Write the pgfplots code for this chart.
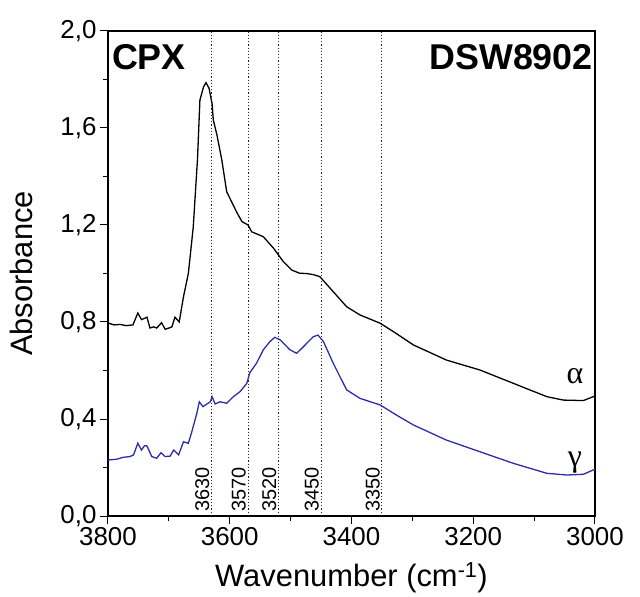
\documentclass[border=0pt]{standalone}
\usepackage{fontspec}
\setmainfont{Liberation Sans}
\newfontfamily\grk{Liberation Serif}
\usepackage{pgfplots}
\pgfplotsset{compat=1.18}
\usepackage{pgfplotstable}

\definecolor{gblue}{RGB}{45,45,170}

% alpha spectrum
\pgfplotstableread{
x y
3800 0.796
3790 0.788
3780 0.790
3770 0.785
3759 0.788
3751 0.837
3745 0.810
3740 0.815
3736 0.820
3731 0.775
3725 0.780
3720 0.775
3712 0.797
3706 0.770
3700 0.775
3695 0.780
3690 0.820
3683 0.800
3676 0.904
3668 1.000
3660 1.190
3653 1.470
3649 1.715
3643 1.770
3639 1.787
3634 1.764
3629 1.700
3627 1.633
3621 1.571
3613 1.468
3605 1.337
3597 1.296
3589 1.255
3580 1.214
3570 1.200
3564 1.172
3545 1.152
3528 1.104
3512 1.049
3498 1.014
3485 1.001
3474 1.000
3462 0.995
3452 0.987
3430 0.925
3408 0.863
3386 0.829
3353 0.795
3331 0.760
3298 0.705
3244 0.643
3189 0.602
3134 0.547
3079 0.492
3052 0.478
3019 0.476
3003 0.492
3000 0.495
}\alphadata

% gamma spectrum
\pgfplotstableread{
x y
3800 0.231
3786 0.234
3775 0.242
3764 0.245
3758 0.252
3751 0.300
3745 0.272
3740 0.290
3736 0.289
3728 0.245
3720 0.238
3713 0.261
3706 0.245
3698 0.247
3692 0.272
3684 0.252
3676 0.306
3668 0.300
3663 0.341
3654 0.424
3650 0.471
3644 0.451
3632 0.471
3629 0.492
3624 0.462
3616 0.471
3605 0.465
3594 0.492
3583 0.513
3572 0.547
3567 0.591
3556 0.630
3545 0.685
3534 0.719
3526 0.737
3517 0.726
3501 0.685
3490 0.671
3479 0.698
3463 0.739
3455 0.746
3446 0.719
3430 0.630
3408 0.520
3386 0.485
3353 0.458
3326 0.416
3298 0.375
3244 0.313
3189 0.265
3134 0.217
3079 0.176
3046 0.169
3019 0.172
3000 0.193
}\gammadata

\begin{document}
\begin{tikzpicture}
\begin{axis}[
    scale only axis,
    width=487bp, height=485bp,
    xmin=3000, xmax=3800, ymin=0, ymax=2,
    x dir=reverse,
    xtick={3000,3200,...,3800}, minor x tick num=1,
    ytick={0,0.4,...,2.0}, minor y tick num=1,
    xtick pos=bottom, ytick pos=left,
    tick align=outside,
    major tick length=8bp, minor tick length=5bp,
    axis line style={line width=1.2bp},
    every tick/.style={black, line width=1bp},
    ticklabel style={font=\fontsize{26}{28}\selectfont},
    /pgf/number format/assume math mode=true,
    xticklabel style={/pgf/number format/1000 sep=},
    yticklabel style={/pgf/number format/.cd, use comma, fixed, fixed zerofill, precision=1},
    xlabel={Wavenumber (cm\textsuperscript{-1})},
    ylabel={Absorbance},
    label style={font=\fontsize{31}{33}\selectfont},
    xlabel style={at={(axis description cs:0.5,-0.128)}, anchor=center},
    ylabel style={at={(axis description cs:-0.177,0.5)}, anchor=center, rotate=0},
  ]
  % reference positions
  \foreach \w in {3630,3570,3520,3450,3350} {
    \edef\tmp{\noexpand\addplot[black!85, line width=1bp, dash pattern=on 1.2bp off 2bp] coordinates {(\w,0) (\w,2)};}
    \tmp
    \edef\tmp{\noexpand\node[rotate=90, anchor=south west, inner sep=2bp, font=\noexpand\fontsize{20}{22}\noexpand\selectfont] at (axis cs:\w,0.01) {\w};}
    \tmp
  }
  \addplot[black, line width=1.3bp] table {\alphadata};
  \addplot[gblue, line width=1.3bp] table {\gammadata};
  \node[font=\grk\fontsize{32}{34}\selectfont] at (axis cs:3033,0.575) {α};
  \node[font=\grk\fontsize{32}{34}\selectfont] at (axis cs:3033,0.22) {γ};
  \node[anchor=west, font=\bfseries\fontsize{36}{38}\selectfont, inner sep=0pt] at (rel axis cs:0.008,0.947) {CPX};
  \node[anchor=east, font=\bfseries\fontsize{36}{38}\selectfont, inner sep=0pt] at (rel axis cs:0.996,0.947) {DSW8902};
\end{axis}
\pgfresetboundingbox
\path (-108bp,-81bp) rectangle (532bp,516bp);
\end{tikzpicture}
\end{document}
